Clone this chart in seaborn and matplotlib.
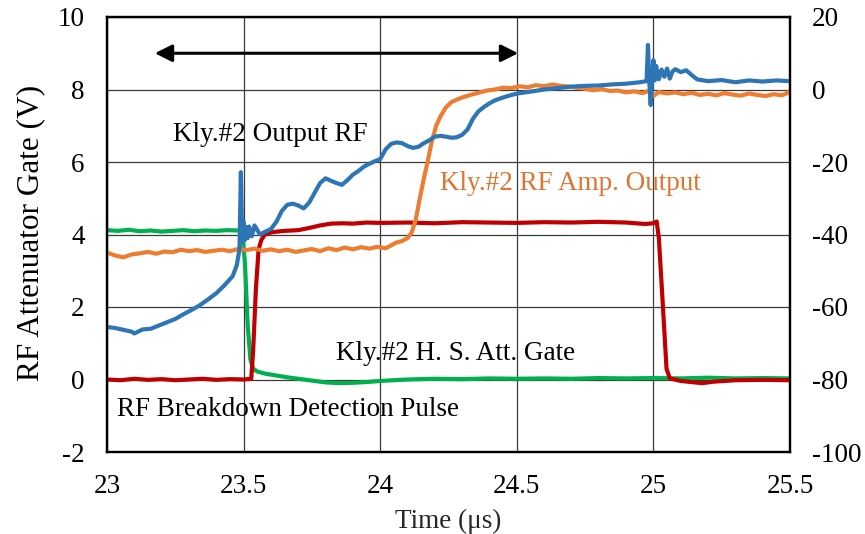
import matplotlib
matplotlib.use("Agg")
import matplotlib.pyplot as plt
import seaborn as sns
import pandas as pd

# ---------------- data ----------------
# Kly.#2 Output RF (right axis, dBm)
blue_t = [23.00, 23.03, 23.06, 23.09, 23.10, 23.13, 23.16, 23.19, 23.22, 23.25,
          23.28, 23.31, 23.34, 23.37, 23.40, 23.43, 23.46, 23.475, 23.485, 23.49,
          23.495, 23.50, 23.505, 23.51, 23.515, 23.52, 23.53, 23.54, 23.56, 23.58,
          23.60, 23.62, 23.64, 23.66, 23.68, 23.70, 23.72, 23.74, 23.76, 23.78,
          23.80, 23.82, 23.84, 23.86, 23.88, 23.90, 23.92, 23.94, 23.96, 23.98,
          24.00, 24.02, 24.04, 24.06, 24.08, 24.10, 24.12, 24.14, 24.16, 24.18,
          24.20, 24.22, 24.24, 24.26, 24.28, 24.30, 24.32, 24.34, 24.36, 24.38,
          24.40, 24.42, 24.45, 24.48, 24.51, 24.55, 24.60, 24.65, 24.70, 24.75,
          24.80, 24.85, 24.90, 24.95, 24.975, 24.98, 24.985, 24.99, 24.995, 25.00,
          25.005, 25.01, 25.02, 25.03, 25.04, 25.05, 25.06, 25.07, 25.08, 25.10,
          25.12, 25.14, 25.16, 25.20, 25.25, 25.30, 25.35, 25.40, 25.45, 25.50]
blue_v = [-65.5, -65.8, -66.3, -66.8, -67.3, -66.2, -66.0, -65.1, -64.2, -63.3,
          -62.0, -60.8, -59.5, -57.9, -56.2, -54.0, -51.5, -48.5, -44.0, -22.8,
          -42.0, -36.5, -41.5, -38.0, -41.0, -37.8, -40.5, -37.5, -40.0, -39.2,
          -38.5, -36.5, -33.5, -31.8, -31.5, -32.0, -32.8, -31.2, -28.5, -25.8,
          -24.5, -25.2, -25.8, -26.3, -25.0, -23.5, -22.5, -21.3, -20.5, -19.8,
          -19.2, -16.5, -15.0, -14.6, -14.8, -15.6, -16.1, -15.8, -14.8, -14.0,
          -13.0, -12.8, -13.0, -13.3, -13.2, -12.5, -11.0, -8.0, -6.0, -4.8,
          -3.8, -3.0, -2.2, -1.5, -1.0, -0.6, 0.0, 0.4, 0.8, 1.0,
          1.1, 1.4, 1.6, 2.0, 2.3, 12.3, 2.0, -4.3, 3.0, 8.1,
          2.5, 6.5, 2.8, 5.5, 3.5, 5.8, 3.0, 5.0, 5.6, 4.8,
          5.3, 4.0, 2.8, 2.3, 2.6, 2.0, 2.5, 2.2, 2.5, 2.3]

# Kly.#2 RF Amp. Output (right axis, dBm)
orange_t = [23.00, 23.03, 23.06, 23.09, 23.12, 23.15, 23.18, 23.21, 23.24, 23.27,
            23.30, 23.33, 23.36, 23.39, 23.42, 23.45, 23.48, 23.51, 23.54, 23.57,
            23.60, 23.63, 23.66, 23.69, 23.72, 23.75, 23.78, 23.81, 23.84, 23.87,
            23.90, 23.93, 23.96, 23.99, 24.02, 24.04, 24.06, 24.08, 24.10, 24.115,
            24.13, 24.145, 24.16, 24.175, 24.19, 24.205, 24.22, 24.24, 24.26, 24.28,
            24.30, 24.33, 24.36, 24.39, 24.42, 24.45, 24.48, 24.51, 24.54, 24.57,
            24.60, 24.63, 24.66, 24.69, 24.72, 24.75, 24.78, 24.81, 24.84, 24.87,
            24.90, 24.93, 24.96, 24.99, 25.00, 25.02, 25.05, 25.08, 25.11, 25.14,
            25.17, 25.20, 25.23, 25.26, 25.29, 25.32, 25.35, 25.38, 25.41, 25.44,
            25.47, 25.49, 25.50]
orange_v = [-45.0, -45.8, -46.3, -45.5, -45.2, -44.8, -45.3, -44.7, -44.9, -44.2,
            -44.6, -44.3, -44.8, -44.5, -44.2, -44.6, -44.0, -44.3, -43.9, -44.5,
            -44.1, -44.6, -44.2, -44.8, -44.4, -44.0, -44.6, -43.8, -44.3, -43.6,
            -44.1, -43.5, -43.9, -43.4, -43.8, -43.0, -42.2, -41.8, -41.0, -39.5,
            -36.0, -30.0, -24.5, -19.4, -14.0, -10.0, -7.5, -5.0, -3.5, -2.8,
            -2.2, -1.5, -0.9, -0.3, 0.0, 0.5, 0.4, 0.9, 0.6, 1.2,
            0.9, 1.4, 1.0, 0.8, 0.5, 0.2, -0.2, 0.1, -0.4, -0.3,
            -0.8, -0.5, -1.0, -0.2, -1.8, -0.7, -1.1, -0.8, -1.3, -0.9,
            -1.5, -1.2, -1.6, -1.0, -1.4, -1.7, -1.1, -1.5, -1.8, -1.3,
            -1.6, -1.0, -0.3]

# Kly.#2 H. S. Att. Gate (left axis, V)
green_t = [23.00, 23.04, 23.08, 23.12, 23.16, 23.20, 23.24, 23.28, 23.32, 23.36,
           23.40, 23.44, 23.48, 23.495, 23.505, 23.515, 23.525, 23.535, 23.55, 23.58,
           23.62, 23.66, 23.70, 23.75, 23.80, 23.85, 23.90, 23.95, 24.00, 24.05,
           24.10, 24.20, 24.30, 24.40, 24.50, 24.60, 24.70, 24.80, 24.90, 25.00,
           25.10, 25.20, 25.30, 25.40, 25.50]
green_v = [4.12, 4.10, 4.13, 4.09, 4.11, 4.08, 4.10, 4.12, 4.09, 4.11,
           4.10, 4.12, 4.11, 4.10, 3.20, 1.50, 0.55, 0.30, 0.22, 0.16,
           0.11, 0.06, 0.02, -0.03, -0.08, -0.10, -0.09, -0.07, -0.04, -0.02,
           0.00, 0.02, 0.01, 0.03, 0.02, 0.03, 0.02, 0.04, 0.03, 0.04,
           0.03, 0.05, 0.03, 0.04, 0.03]

# RF Breakdown Detection Pulse (left axis, V)
red_t = [23.00, 23.05, 23.10, 23.15, 23.20, 23.25, 23.30, 23.35, 23.40, 23.45,
         23.50, 23.528, 23.535, 23.545, 23.555, 23.565, 23.58, 23.61, 23.65, 23.70,
         23.74, 23.78, 23.82, 23.86, 23.90, 23.95, 24.00, 24.10, 24.20, 24.30,
         24.40, 24.50, 24.60, 24.70, 24.80, 24.90, 24.97, 25.00, 25.012, 25.02,
         25.035, 25.048, 25.06, 25.10, 25.15, 25.18, 25.22, 25.30, 25.40, 25.50]
red_v = [0.00, -0.02, 0.02, -0.01, 0.01, -0.02, 0.00, 0.02, -0.01, 0.01,
         0.00, 0.02, 0.80, 2.50, 3.60, 3.85, 4.02, 4.07, 4.10, 4.12,
         4.18, 4.25, 4.30, 4.31, 4.30, 4.33, 4.32, 4.33, 4.31, 4.34,
         4.33, 4.32, 4.34, 4.33, 4.35, 4.33, 4.29, 4.31, 4.36, 3.90,
         2.00, 0.30, 0.03, -0.04, -0.08, -0.10, -0.06, -0.02, -0.01, -0.02]

x_ticks = [23, 23.5, 24, 24.5, 25, 25.5]
x_tick_labels = ["23", "23.5", "24", "24.5", "25", "25.5"]
left_ticks = [-2, 0, 2, 4, 6, 8, 10]
right_ticks = [-100, -80, -60, -40, -20, 0, 20]

labels = {
    "blue": "Kly.#2 Output RF",
    "orange": "Kly.#2 RF Amp. Output",
    "green": "Kly.#2 H. S. Att. Gate",
    "red": "RF Breakdown Detection Pulse",
}

# ---------------- styling ----------------
sns.set_style("white")
plt.rcParams["font.family"] = ["Liberation Serif", "DejaVu Serif"]
plt.rcParams["axes.unicode_minus"] = False

C_BLUE = "#2E75B6"
C_ORANGE = "#ED7D31"
C_GREEN = "#00B050"
C_RED = "#C00000"
FS = 19.5
LW = 3.0

fig = plt.figure(figsize=(8.65, 5.34), dpi=100)
ax = fig.add_axes([107 / 865, 1 - 452 / 534, (790 - 107) / 865, (452 - 17) / 534])
ax2 = ax.twinx()

df_g = pd.DataFrame({"t": green_t, "v": green_v})
df_r = pd.DataFrame({"t": red_t, "v": red_v})
df_o = pd.DataFrame({"t": orange_t, "v": orange_v})
df_b = pd.DataFrame({"t": blue_t, "v": blue_v})

sns.lineplot(data=df_g, x="t", y="v", ax=ax, color=C_GREEN, lw=LW, sort=False, errorbar=None)
sns.lineplot(data=df_r, x="t", y="v", ax=ax, color=C_RED, lw=LW, sort=False, errorbar=None)
sns.lineplot(data=df_o, x="t", y="v", ax=ax2, color=C_ORANGE, lw=LW, sort=False, errorbar=None)
sns.lineplot(data=df_b, x="t", y="v", ax=ax2, color=C_BLUE, lw=LW, sort=False, errorbar=None)

ax.set_xlim(23, 25.5)
ax.set_ylim(-2, 10)
ax2.set_ylim(-100, 20)
ax.set_xticks(x_ticks)
ax.set_xticklabels(x_tick_labels)
ax.set_yticks(left_ticks)
ax2.set_yticks(right_ticks)

ax.grid(True, color="#3a3a3a", lw=0.9)
ax.set_axisbelow(True)
ax2.grid(False)

for a in (ax, ax2):
    for s in a.spines.values():
        s.set_color("black")
        s.set_linewidth(1.6)
    a.tick_params(length=0, labelsize=FS, colors="black")
ax.tick_params(axis="y", pad=16)
ax.tick_params(axis="x", pad=16)
ax2.tick_params(axis="y", pad=16)

ax.set_xlabel("Time (μs)", fontsize=FS, labelpad=7)
ax.set_ylabel("")
ax2.set_ylabel("")
fig.text(31 / 865, 1 - 233 / 534, "RF Attenuator Gate (V)", rotation=90,
         fontsize=22.5, ha="center", va="center", color="black")

# double-headed arrow
ax.annotate("", xy=(24.505, 9.0), xytext=(23.175, 9.0),
            arrowprops=dict(arrowstyle="<|-|>", color="black", lw=2.2,
                            mutation_scale=26, shrinkA=0, shrinkB=0))

ax.text(23.24, 6.75, labels["blue"], fontsize=FS, color="black", va="center", ha="left")
ax.text(24.22, 5.42, labels["orange"], fontsize=FS, color="#DF7430", va="center", ha="left")
ax.text(23.84, 0.73, labels["green"], fontsize=FS, color="black", va="center", ha="left")
ax.text(23.037, -0.84, labels["red"], fontsize=FS, color="black", va="center", ha="left")

fig.savefig("out.png", dpi=100)
